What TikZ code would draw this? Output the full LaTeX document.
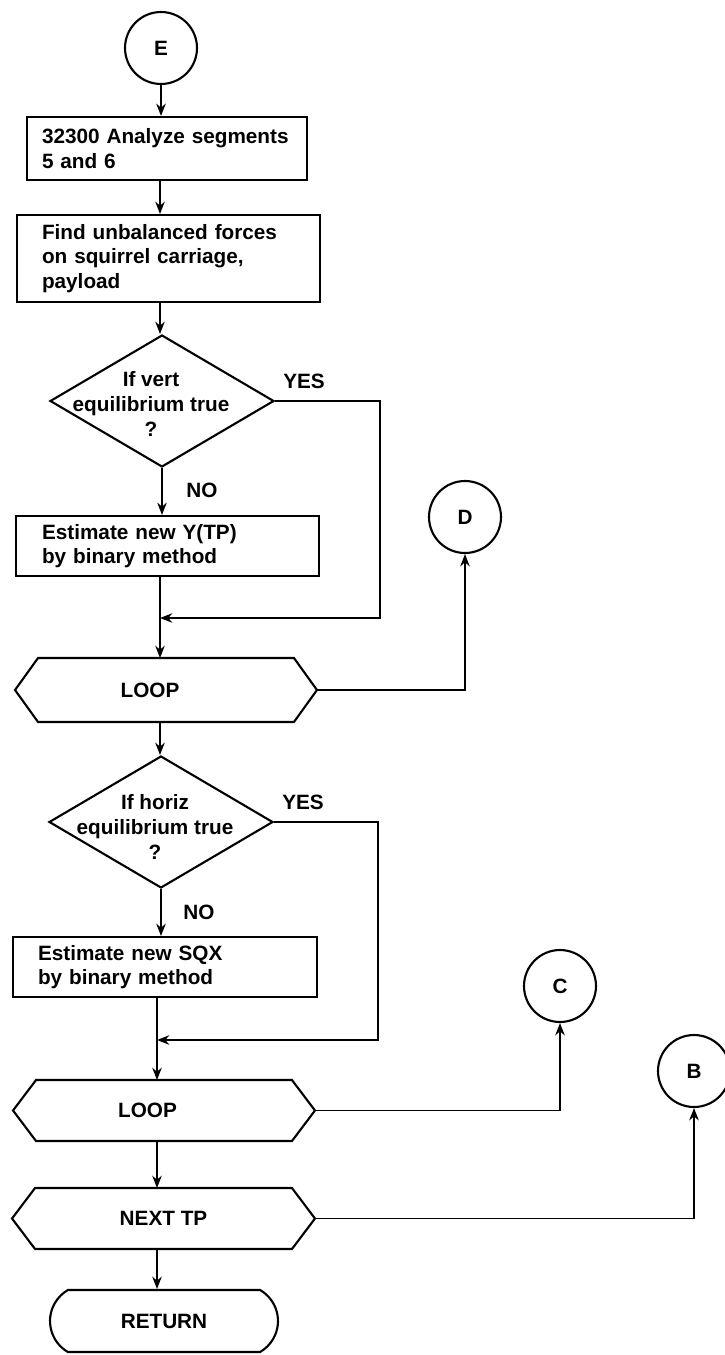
\documentclass[tikz,border=0pt]{standalone}
\usepackage{fontspec}
\setmainfont{Liberation Sans}
\usetikzlibrary{arrows.meta,shapes.geometric,shapes.misc}

\newcommand{\drawhex}[1]{%
	\draw[line width=1.2pt] ([xshift=0.46cm]#1.north west) -- ([xshift=-0.46cm]#1.north east) -- (#1.east)
		-- ([xshift=-0.46cm]#1.south east) -- ([xshift=0.46cm]#1.south west) -- (#1.west) -- cycle;}

\begin{document}
\begin{tikzpicture}[x=0.02cm,y=-0.02cm,
	font=\fontsize{11.8}{14}\selectfont\bfseries,
	box/.style={draw,line width=1.2pt,rectangle,align=left,inner xsep=0.5cm,inner ysep=0pt},
	dia/.style={draw,line width=1.2pt,diamond,minimum width=4.48cm,minimum height=2.64cm,inner sep=0pt},
	ring/.style={draw,line width=1.2pt,circle,minimum size=1.44cm,inner sep=0pt},
	hexa/.style={rectangle,inner sep=0pt,outer sep=0pt},
	conn/.style={line width=1pt,-{Stealth[length=7pt,width=5.4pt]}}]
	\useasboundingbox[fill=white] (0,0) rectangle (724,1355);
	\coordinate (col) at (160,0);
	\coordinate (col2) at (157,0);

	\node[ring] (E) at (161,48) {E};
	\node[box,inner xsep=0.3cm,text width=5.0cm,minimum height=1.26cm] (anal) at (167,148.5) {32300 Analyze segments\\5 and 6};
	\node[box,text width=5.06cm,minimum height=1.74cm] (forces) at (168.5,258.5) {Find unbalanced forces\\on squirrel carriage,\\payload};
	\node[dia,label={[align=center,xshift=-0.22cm,yshift=-0.06cm]center:{If vert\\equilibrium true\\?}}] (dia1) at (162,401) {};
	\node (yes1) at (304,381) {YES};
	\node (no1) at (202,490) {NO};
	\node[box,inner xsep=0.52cm,text width=5.02cm,minimum height=1.2cm] (esty) at (167.5,546) {Estimate new Y(TP)\\by binary method};
	\node[hexa,minimum width=6.04cm,minimum height=1.28cm,label={[xshift=-0.32cm]center:LOOP}] (loop1) at (166,690) {};
	\node[ring] (D) at (465,517) {D};

	\node[dia,label={[align=center,xshift=-0.12cm,yshift=-0.1cm]center:{If horiz\\equilibrium true\\?}}] (dia2) at (161,822) {};
	\node (yes2) at (303,802) {YES};
	\node (no2) at (199,912) {NO};
	\node[box,text width=5.08cm,minimum height=1.2cm] (sqx) at (165,967) {Estimate new SQX\\by binary method};
	\node[hexa,minimum width=6.04cm,minimum height=1.22cm,label={[xshift=-0.33cm]center:LOOP}] (loop2) at (164,1110.5) {};
	\node[ring] (C) at (560,986) {C};
	\node[hexa,minimum width=6.06cm,minimum height=1.22cm] (next) at (163.5,1218.5) {NEXT TP};
	\node[ring] (B) at (694,1071) {B};
	\node[draw,line width=1.2pt,rounded rectangle,rounded rectangle arc length=120,minimum width=4.56cm,minimum height=1.24cm,inner sep=0pt] (ret) at (164,1321) {RETURN};

	\drawhex{loop1}
	\drawhex{loop2}
	\drawhex{next}

	% main column
	\draw[conn] (E) -- (E |- anal.north);
	\draw[conn] (col |- anal.south) -- (col |- forces.north);
	\draw[conn] (col |- forces.south) -- (col |- dia1.north);
	\draw[conn] (dia1.south) -- (dia1.south |- esty.north);
	\draw[conn] (col |- esty.south) -- (col |- loop1.north);
	\draw[conn] (col |- loop1.south) -- (col |- dia2.north);
	\draw[conn] (dia2.south) -- (dia2.south |- sqx.north);
	\draw[conn] (col2 |- sqx.south) -- (col2 |- loop2.north);
	\draw[conn] (col2 |- loop2.south) -- (col2 |- next.north);
	\draw[conn] (col2 |- next.south) -- (col2 |- ret.north);

	% yes branches
	\coordinate (r1) at (380,618);
	\coordinate (j1) at (160,618);
	\draw[conn] (dia1.east) -| (r1) -- (j1);
	\coordinate (r2) at (378,1040);
	\coordinate (j2) at (157,1040);
	\draw[conn] (dia2.east) -| (r2) -- (j2);

	% connectors out
	\draw[conn] (loop1.east) -| (D.south);
	\draw[conn] (loop2.east) -| (C.south);
	\draw[conn] (next.east) -| (B.south);
\end{tikzpicture}
\end{document}
